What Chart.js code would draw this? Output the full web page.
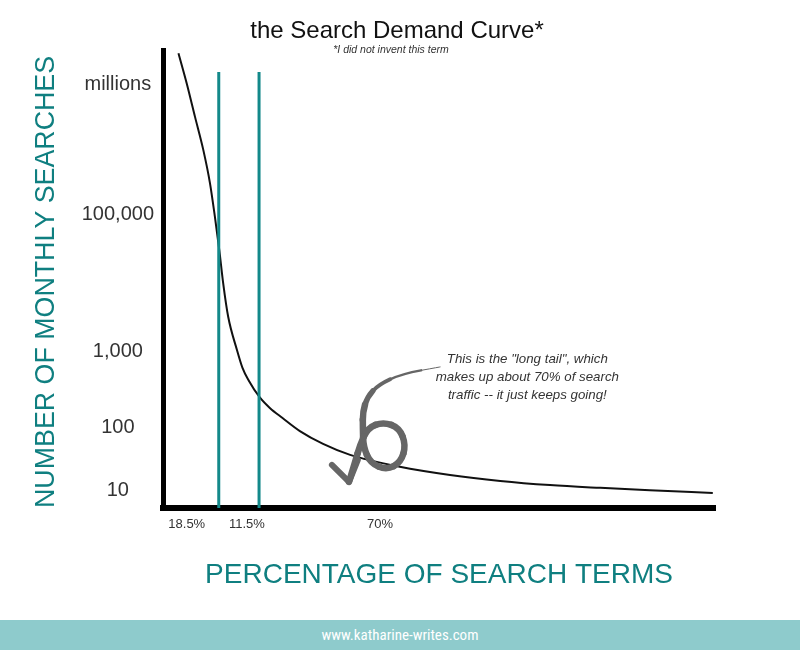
<!DOCTYPE html>
<html><head><meta charset="utf-8">
<script src="https://cdn.jsdelivr.net/npm/chart.js@4/dist/chart.umd.min.js"></script>
<style>
html,body{margin:0;padding:0;background:#fff;}
#wrap{position:relative;width:800px;height:650px;overflow:hidden;background:#fff;}
#c{position:absolute;left:0;top:0;}
#footer{position:absolute;left:0;top:620px;width:800px;height:30px;background:#8ecbcc;color:#fff;text-align:center;line-height:30px;font-size:15px;font-family:"Liberation Sans Narrow","Roboto Condensed",Roboto,sans-serif;}
</style></head>
<body>
<div id="wrap"><canvas id="c" width="800" height="620"></canvas><div id="footer">www.katharine-writes.com</div></div>
<script>
// ---- data (abstract units: x 0..100 along the axis, y 0..100 relative height) ----
const curveX = [2.8, 4.3, 5.8, 7.3, 8.5, 9.4, 10.2, 10.9, 11.8, 13.4, 14.4, 15.5, 17.5, 19.4, 21.6, 24.8, 29.0, 33.9, 42.9, 52.0, 61.1, 70.1, 79.2, 88.2, 99.6];
const curveY = [99.3, 92.7, 85.4, 78.2, 71.0, 63.6, 56.3, 49.1, 41.8, 34.5, 30.6, 27.9, 24.2, 21.8, 19.7, 16.8, 14.0, 11.6, 9.0, 7.2, 5.9, 5.0, 4.4, 3.9, 3.3];
const dividerX = [10.1, 17.4];
const dividerTop = 95.2;
const xTickValues = [4.3, 15.2, 39.3];
const xTickLabels = ['18.5%', '11.5%', '70%'];
const yTickValues = [3.9, 17.5, 34.1, 64.0, 92.4];
const yTickLabels = ['10', '100', '1,000', '100,000', 'millions'];
const titleText = 'the Search Demand Curve*';
const subtitleText = '*I did not invent this term';
const xTitle = 'PERCENTAGE OF SEARCH TERMS';
const yTitle = 'NUMBER OF MONTHLY SEARCHES';
const noteLines = ['This is the "long tail", which', 'makes up about 70% of search', 'traffic -- it just keeps going!'];
const noteAnchor = [66.0, 31.7];
const arrowX = [50.2, 43.3, 39.0, 37.0, 36.2, 36.2, 36.3, 37.6, 40.5, 43.1, 44.0, 42.8, 39.9, 37.1, 35.7, 34.8, 33.7];
const arrowY = [30.8, 29.3, 26.9, 24.2, 21.0, 17.5, 13.3, 9.8, 8.3, 10.0, 13.8, 17.5, 18.8, 17.5, 13.8, 10.0, 5.7];
const arrowHeadX = [30.6, 33.7, 35.3];
const arrowHeadY = [9.4, 5.7, 10.5];

const TEAL = '#0f7f80';
const LINE_TEAL = '#13898a';
const SANS = '"Liberation Sans", Arial, Helvetica, sans-serif';

const annotPlugin = {
  id: 'annot',
  afterDatasetsDraw(chart) {
    const ctx = chart.ctx, xs = chart.scales.x, ys = chart.scales.y;
    const P = arrowX.map((x, i) => [xs.getPixelForValue(x), ys.getPixelForValue(arrowY[i])]);
    ctx.save();
    ctx.strokeStyle = '#666';
    ctx.lineCap = 'round';
    ctx.lineJoin = 'round';
    for (let i = 0; i < P.length - 1; i++) {
      const a = i === 0 ? P[0] : [(P[i - 1][0] + P[i][0]) / 2, (P[i - 1][1] + P[i][1]) / 2];
      const b = i === P.length - 2 ? P[i + 1] : [(P[i][0] + P[i + 1][0]) / 2, (P[i][1] + P[i + 1][1]) / 2];
      ctx.lineWidth = Math.min(6.5, 1 + i * 1.5);
      ctx.beginPath();
      ctx.moveTo(a[0], a[1]);
      ctx.quadraticCurveTo(P[i][0], P[i][1], b[0], b[1]);
      ctx.stroke();
    }
    ctx.lineWidth = 6;
    ctx.beginPath();
    arrowHeadX.forEach((x, i) => {
      const px = xs.getPixelForValue(x), py = ys.getPixelForValue(arrowHeadY[i]);
      if (i === 0) ctx.moveTo(px, py); else ctx.lineTo(px, py);
    });
    ctx.stroke();
    ctx.restore();
  },
  afterDraw(chart) {
    const ctx = chart.ctx, xs = chart.scales.x, ys = chart.scales.y;
    ctx.save();
    ctx.textAlign = 'center';
    ctx.textBaseline = 'alphabetic';
    ctx.fillStyle = '#111';
    ctx.font = '24px ' + SANS;
    ctx.fillText(titleText, 397, 38);
    ctx.fillStyle = '#333';
    ctx.font = 'italic 10.5px ' + SANS;
    ctx.fillText(subtitleText, 391, 53);
    ctx.font = 'italic 13.3px ' + SANS;
    const nx = xs.getPixelForValue(noteAnchor[0]);
    const ny = ys.getPixelForValue(noteAnchor[1]);
    noteLines.forEach((t, i) => ctx.fillText(t, nx, ny + i * 18));
    ctx.restore();
  }
};

new Chart(document.getElementById('c'), {
  type: 'line',
  data: {
    datasets: [
      {
        label: 'Search demand',
        data: curveX.map((x, i) => ({ x: x, y: curveY[i] })),
        borderColor: '#111', borderWidth: 2, pointRadius: 0,
        tension: 0.4, cubicInterpolationMode: 'monotone', fill: false, order: 2
      },
      ...dividerX.map((x, i) => ({
        label: 'divider ' + (i + 1),
        data: [{ x: x, y: 0 }, { x: x, y: dividerTop }],
        borderColor: LINE_TEAL, borderWidth: 3, pointRadius: 0, fill: false, order: 1
      }))
    ]
  },
  options: {
    responsive: false,
    animation: false,
    events: [],
    layout: { padding: { top: 50, left: 0, right: 85, bottom: 0 } },
    plugins: {
      legend: { display: false },
      tooltip: { enabled: false },
      title: { display: false }
    },
    scales: {
      x: {
        type: 'linear', min: 0, max: 100,
        grid: { display: false, drawTicks: false },
        border: { display: true, width: 6, color: '#000' },
        afterBuildTicks(s) { s.ticks = xTickValues.map(v => ({ value: v })); },
        ticks: {
          autoSkip: false, maxRotation: 0, minRotation: 0, padding: 9, color: '#333',
          font: { family: SANS, size: 13 },
          callback: (v, i) => xTickLabels[i]
        },
        title: {
          display: true, text: xTitle, color: TEAL,
          font: { family: SANS, size: 28, weight: 'normal' },
          padding: { top: 0, bottom: 28 }
        },
        afterFit(s) { s.height = 112; }
      },
      y: {
        type: 'linear', min: 0, max: 100,
        grid: { display: false, drawTicks: false },
        border: { display: true, width: 5, color: '#000' },
        afterBuildTicks(s) { s.ticks = yTickValues.map(v => ({ value: v })); },
        ticks: {
          autoSkip: false, crossAlign: 'center', padding: 9, color: '#333',
          font: { family: SANS, size: 20 },
          callback: (v, i) => yTickLabels[i]
        },
        title: {
          display: true, text: yTitle, color: TEAL, align: 'start',
          font: { family: SANS, size: 26.8, weight: 'normal' },
          padding: { top: 31, bottom: 0 }
        },
        afterFit(s) { s.width = 163; }
      }
    }
  },
  plugins: [annotPlugin]
});
</script>
</body></html>
